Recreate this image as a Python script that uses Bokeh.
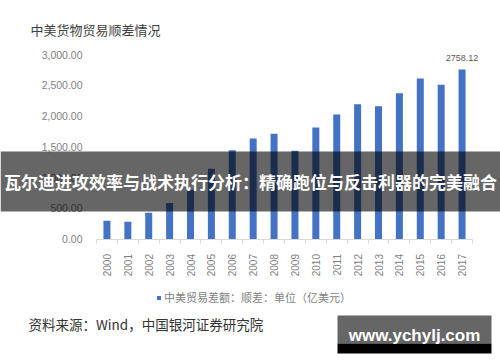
from bokeh.plotting import figure
from bokeh.models import (Label, BoxAnnotation, Legend, LegendItem, FixedTicker,
                          NumeralTickFormatter, ColumnDataSource, LinearAxis)
from bokeh.embed import file_html
from bokeh.resources import INLINE

# ---- data ----
years = [2000, 2001, 2002, 2003, 2004, 2005, 2006, 2007, 2008, 2009,
         2010, 2011, 2012, 2013, 2014, 2015, 2016, 2017]
surplus = [297.4, 281.1, 427.2, 586.1, 802.1, 1141.7, 1442.6, 1632.9, 1710.9, 1433.9,
           1812.7, 2023.3, 2189.2, 2159.6, 2370.6, 2608.4, 2507.7, 2758.12]
y_ticks = [0, 500, 1000, 1500, 2000, 2500, 3000]
chart_title = "中美货物贸易顺差情况"
series_name = "中美贸易差额：顺差：单位（亿美元）"
source_note = "资料来源：Wind，中国银河证券研究院"
banner_text = "瓦尔迪进攻效率与战术执行分析：精确跑位与反击利器的完美融合"
watermark = "www.ychylj.com"

# ---- layout geometry (canvas pixels) ----
W, H = 500, 362
FL, FR, FB = 96, 472, 238.5               # plot-area edges in px
X0, X1 = years[0] - 0.5, years[-1] + 0.5
XPX = (FR - FL) / (X1 - X0)
YPX = 30.75 / 500.0

def dx(sx):
    return X0 + (sx - FL) / XPX

def dy(sy):
    return (FB - sy) / YPX

p = figure(width=W, height=H, output_backend="svg", toolbar_location=None,
           x_range=(dx(0), dx(W)), y_range=(dy(H), dy(0)),
           x_axis_type=None, y_axis_type=None,
           min_border=0, min_border_left=0, min_border_right=0,
           min_border_top=0, min_border_bottom=0)
p.outline_line_color = None
p.background_fill_color = "white"
p.border_fill_color = "white"

src = ColumnDataSource(dict(x=years, top=surplus))
bars = p.vbar(x="x", top="top", width=0.335, source=src,
              fill_color="#4472C4", line_color=None)

NUMF = "Liberation Sans"
CJK = "Noto Sans CJK SC"

# x axis (drawn at y = 0)
xa = LinearAxis(fixed_location=0, bounds=(X0, X1))
xa.ticker = FixedTicker(ticks=years, minor_ticks=[y - 0.5 for y in years] + [X1])
xa.major_label_orientation = 3.14159265 / 2
xa.axis_line_color = "#d9d9d9"
xa.major_tick_line_color = None
xa.major_tick_out = 0
xa.major_tick_in = 0
xa.minor_tick_line_color = "#d9d9d9"
xa.minor_tick_out = 4
xa.minor_tick_in = 0
xa.major_label_standoff = 11
xa.major_label_text_font = NUMF
xa.major_label_text_font_size = "10px"
xa.major_label_text_color = "#7f7f7f"
p.add_layout(xa, "below")

# y axis (drawn at the left edge of the plot area)
ya = LinearAxis(fixed_location=X0, bounds=(0, y_ticks[-1]))
ya.ticker = FixedTicker(ticks=y_ticks)
ya.formatter = NumeralTickFormatter(format="0,0.00")
ya.axis_line_color = None
ya.major_tick_line_color = None
ya.minor_tick_line_color = None
ya.major_tick_out = 0
ya.major_tick_in = 0
ya.major_label_standoff = 14
ya.major_label_text_font = NUMF
ya.major_label_text_font_size = "10.5px"
ya.major_label_text_color = "#7f7f7f"
p.add_layout(ya, "left")

# title
p.add_layout(Label(x=dx(30), y=dy(29), text=chart_title, text_font=CJK,
                   text_font_size="13px", text_color="#404040",
                   text_baseline="middle", text_align="left"))

# value label on last bar
p.add_layout(Label(x=years[-1], y=surplus[-1], text=f"{surplus[-1]:.2f}",
                   text_font=NUMF, text_font_size="9px", text_color="#595959",
                   text_align="center", text_baseline="bottom", y_offset=8))

# legend
legend = Legend(items=[LegendItem(label=series_name, renderers=[bars])],
                location=(156, H - 305), orientation="horizontal",
                glyph_width=5, glyph_height=5, label_standoff=3,
                padding=0, margin=0, border_line_color=None,
                background_fill_alpha=0,
                label_text_font=CJK, label_text_font_size="11px",
                label_text_color="#7f7f7f")
p.add_layout(legend, "center")

# source note
p.add_layout(Label(x=dx(28), y=dy(323), text=source_note, text_font=CJK,
                   text_font_size="13.5px", text_color="#333333",
                   text_baseline="middle", text_align="left"))

# overlay banner
p.add_layout(BoxAnnotation(left=dx(0), right=dx(W), top=dy(151), bottom=dy(211),
                           fill_color="black", fill_alpha=0.6, line_color=None))
p.add_layout(Label(x=dx(250), y=dy(181), text=banner_text, text_font=CJK,
                   text_font_size="17px", text_font_style="bold", text_color="white",
                   text_align="center", text_baseline="middle"))

# watermark box
p.add_layout(BoxAnnotation(left=dx(337), right=dx(491), top=dy(315), bottom=dy(343),
                           fill_color="#666666", fill_alpha=1, line_color=None))
p.add_layout(BoxAnnotation(left=dx(337), right=dx(491), top=dy(343), bottom=dy(353),
                           fill_color="black", fill_alpha=1, line_color=None))
p.add_layout(Label(x=dx(414), y=dy(335), text=watermark, text_font=NUMF,
                   text_font_size="17px", text_font_style="bold", text_color="white",
                   text_align="center", text_baseline="middle"))

open("out.html", "w").write(file_html(p, INLINE))
